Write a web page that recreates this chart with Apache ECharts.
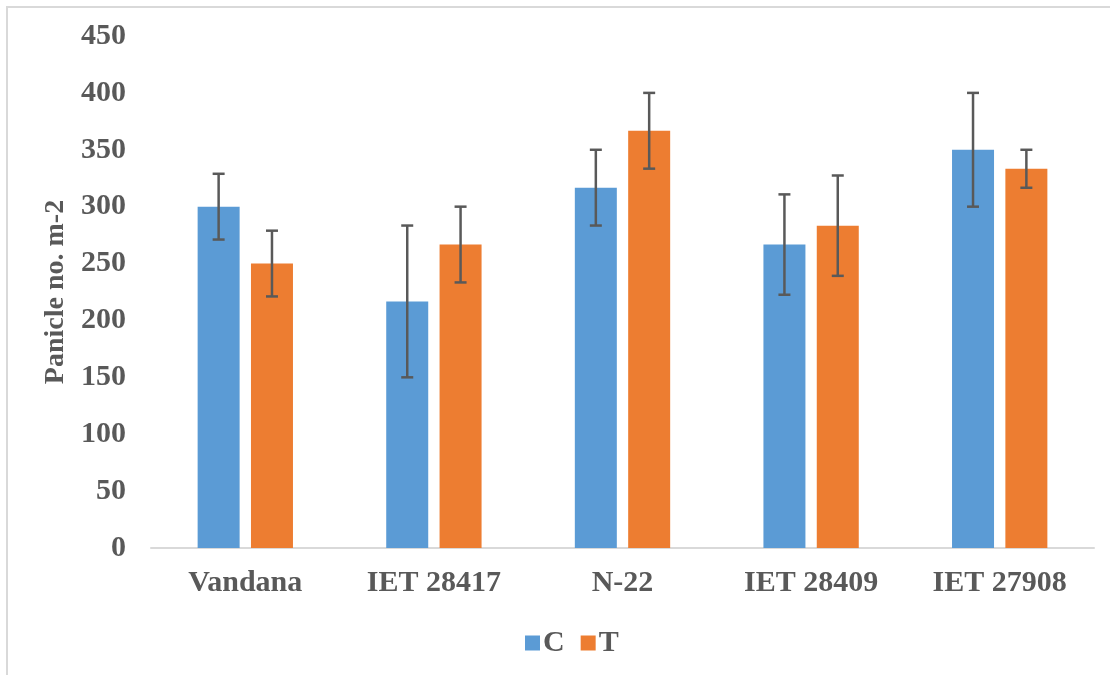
<!DOCTYPE html>
<html>
<head>
<meta charset="utf-8">
<script src="https://cdn.jsdelivr.net/npm/echarts@6/dist/echarts.min.js"></script>
<style>
  html, body { margin: 0; padding: 0; background: #fff; }
  #wrap { position: relative; width: 1110px; height: 675px; overflow: hidden; }
  #frame { position: absolute; left: 6px; top: 6px; width: 1200px; height: 800px; border: 2px solid #d9d9d9; box-sizing: border-box; }
  #chart { position: absolute; left: 0; top: 0; width: 1110px; height: 675px; }
</style>
</head>
<body>
<div id="wrap">
  <div id="frame"></div>
  <div id="chart"></div>
</div>
<script>
const categories = ['Vandana', 'IET 28417', 'N-22', 'IET 28409', 'IET 27908'];
const seriesNames = ['C', 'T'];
const cValues = [300, 216.7, 316.7, 266.7, 350];
const tValues = [250, 266.7, 366.7, 283.3, 333.3];
const cErrors = [28.9, 66.7, 33.3, 44.1, 50];
const tErrors = [28.9, 33.3, 33.3, 44.1, 16.7];
const yTicks = { min: 0, max: 450, interval: 50 };

const FONT = '"Liberation Serif", "Times New Roman", serif';
const TEXT = '#595959';
const FS = 30;
const BAR_W = 42;
const BAR_GAP = 0.27;
const offset = (BAR_W + BAR_W * BAR_GAP) / 2;

function errSeries(name, values, errors, sign) {
  return {
    type: 'custom',
    name: name + '_err',
    z: 10,
    silent: true,
    data: values.map((v, i) => [i, v - errors[i], v + errors[i]]),
    renderItem: function (params, api) {
      const idx = api.value(0);
      const lo = api.coord([idx, api.value(1)]);
      const hi = api.coord([idx, api.value(2)]);
      const x = lo[0] + sign * offset;
      const cap = 6;
      const style = { stroke: '#595959', lineWidth: 2.5, fill: null };
      return {
        type: 'group',
        children: [
          { type: 'line', shape: { x1: x, y1: hi[1], x2: x, y2: lo[1] }, style: style },
          { type: 'line', shape: { x1: x - cap, y1: hi[1], x2: x + cap, y2: hi[1] }, style: style },
          { type: 'line', shape: { x1: x - cap, y1: lo[1], x2: x + cap, y2: lo[1] }, style: style }
        ]
      };
    }
  };
}

const chart = echarts.init(document.getElementById('chart'), null, { renderer: 'canvas' });
chart.setOption({
  animation: false,
  backgroundColor: 'transparent',
  textStyle: { fontFamily: FONT },
  grid: { left: 151, right: 16, top: 36, bottom: 127, containLabel: false },
  legend: {
    data: seriesNames,
    left: 520,
    top: 623,
    itemWidth: 15,
    itemHeight: 15,
    itemGap: 16,
    icon: 'rect',
    textStyle: { fontFamily: FONT, fontSize: FS, fontWeight: 'bold', color: TEXT, padding: [0, 0, 0, -2] }
  },
  xAxis: {
    type: 'category',
    data: categories,
    axisLine: { show: true, lineStyle: { color: '#d9d9d9', width: 2 } },
    axisTick: { show: false },
    axisLabel: { fontFamily: FONT, fontSize: FS, fontWeight: 'bold', color: TEXT, margin: 20 }
  },
  yAxis: {
    type: 'value',
    min: yTicks.min,
    max: yTicks.max,
    interval: yTicks.interval,
    name: 'Panicle no. m-2',
    nameLocation: 'middle',
    nameRotate: 90,
    nameGap: 80,
    nameTextStyle: { fontFamily: FONT, fontSize: 28, fontWeight: 'bold', color: TEXT },
    axisLine: { show: false },
    axisTick: { show: false },
    splitLine: { show: false },
    axisLabel: { fontFamily: FONT, fontSize: FS, fontWeight: 'bold', color: TEXT, margin: 25 }
  },
  series: [
    { name: seriesNames[0], type: 'bar', data: cValues, barWidth: BAR_W, barGap: (BAR_GAP * 100) + '%', itemStyle: { color: '#5B9BD5' } },
    { name: seriesNames[1], type: 'bar', data: tValues, barWidth: BAR_W, barGap: (BAR_GAP * 100) + '%', itemStyle: { color: '#ED7D31' } },
    errSeries('C', cValues, cErrors, -1),
    errSeries('T', tValues, tErrors, 1)
  ]
});
</script>
</body>
</html>
